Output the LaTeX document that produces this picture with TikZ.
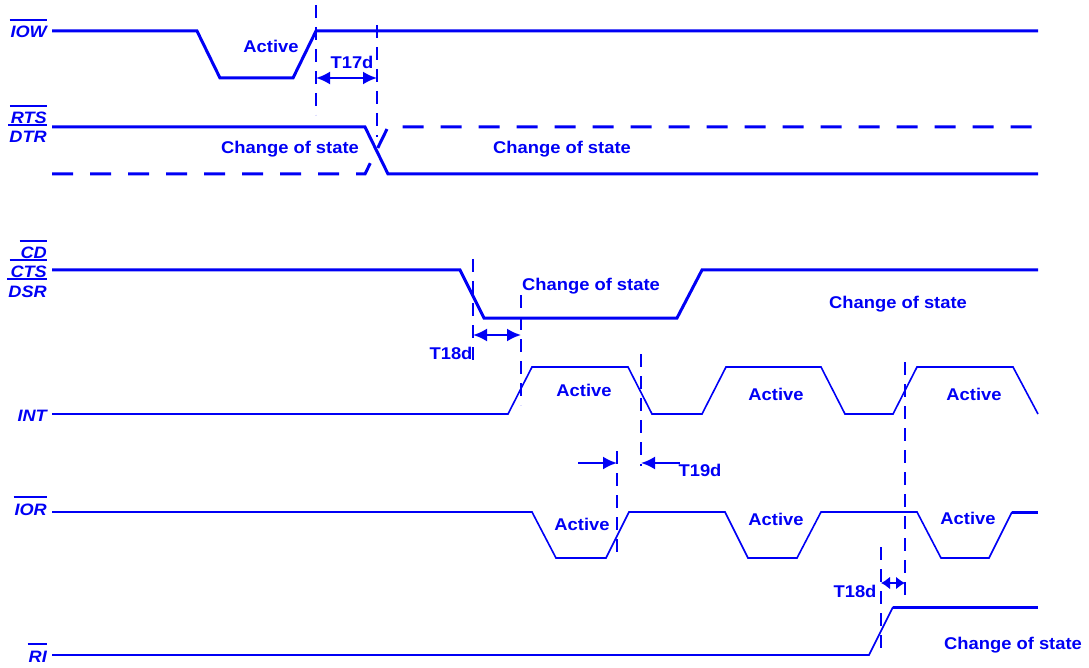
\documentclass[tikz,border=0pt]{standalone}
\usepackage{fontspec}
\setmainfont{Liberation Sans}[FakeStretch=1.08]
\newfontfamily\sigfont{Liberation Sans}[FakeStretch=1.1]
\usepackage{xcolor}
\usetikzlibrary{arrows.meta}
\definecolor{sigblue}{RGB}{0,0,245}
\newlength{\ovlw}
\newcommand{\ovl}[1]{\settowidth{\ovlw}{#1}\rlap{\hspace{-1pt}\smash{\rule[1.02em]{\dimexpr\ovlw+1pt\relax}{2.4pt}}}#1}

\begin{document}
\begin{tikzpicture}[
    x=1pt, y=-1pt,
    color=sigblue,
    font=\fontsize{17}{20}\selectfont\bfseries,
    >={Latex[length=14pt,width=13pt]},
    wave/.style={line width=3pt},
    thinwave/.style={line width=1.6pt},
    dashwave/.style={line width=3pt, dash pattern=on 21pt off 17pt},
    marker/.style={line width=2pt, dash pattern=on 13pt off 9pt},
    signame/.style={
      anchor=base east,
      align=right,
      inner sep=0pt,
      font=\sigfont\fontsize{16.5}{19}\selectfont\bfseries\itshape
    },
    note/.style={inner sep=0pt},
    arrow/.style={<->, line width=2.2pt},
    smallarrow/.style={<->, line width=2pt, >={Latex[length=9pt,width=13pt]}}
]
\useasboundingbox (0,0) rectangle (1089,668);

% signal names
\node[signame] (iow) at (47,38) {\ovl{IOW}};
\node[signame] (rts) at (47,143) {\ovl{RTS}\\\ovl{DTR}};
\node[signame] (cd) at (47,297) {\ovl{CD}\\\ovl{CTS}\\\ovl{DSR}};
\node[signame] (int) at (47,421) {INT};
\node[signame] (ior) at (47,515) {\ovl{IOR}};
\node[signame] (ri) at (47,662) {\ovl{RI}};

% waveforms
\draw[wave] (52,31) -- (197,31) -- (220,78) -- (293,78) -- (316,31) -- (1038,31);
\draw[wave] (52,127) -- (365,127) -- (388,174) -- (1038,174);
\draw[dashwave] (52,174) -- (365,174) -- (388,127) -- (1038,127);
\draw[wave] (52,270) -- (460,270) -- (484,318) -- (677,318) -- (702,270) -- (1038,270);
\draw[thinwave] (52,414) -- (508,414) -- (532,367) -- (628,367) -- (652,414)
  -- (702,414) -- (726,367) -- (821,367) -- (845,414) -- (893,414) -- (917,367)
  -- (1013,367) -- (1038,414);
\draw[thinwave] (52,512) -- (532,512) -- (556,558) -- (606,558) -- (629,512)
  -- (725,512) -- (748,558) -- (797,558) -- (821,512) -- (917,512) -- (941,558)
  -- (989,558) -- (1012,512);
\draw[wave] (1012,512) -- (1038,512);
\draw[thinwave] (52,655) -- (869,655) -- (893,607);
\draw[wave] (893,607) -- (1038,607);

% timing markers
\foreach \x/\ya/\yb in {316/5/115, 377/25/137, 473/259/367, 521/295/405,
                        641/354/466, 617/451/560, 905/362/595, 881/547/655}
  \draw[marker] (\x,\ya) -- (\x,\yb);

% delay arrows
\coordinate (a17) at (316,78);
\coordinate (b17) at (377,78);
\coordinate (a18) at (473,335);
\coordinate (b18) at (521,335);
\coordinate (a19) at (578,463);
\coordinate (b19) at (617,463);
\coordinate (c19) at (680,463);
\coordinate (d19) at (641,463);
\coordinate (e18) at (881,583);
\coordinate (f18) at (905,583);
\draw[arrow] (a17) -- (b17);
\draw[arrow] (a18) -- (b18);
\draw[->, line width=2.2pt] (a19) -- (b19);
\draw[->, line width=2.2pt] (c19) -- (d19);
\draw[smallarrow] (e18) -- (f18);

% labels
\node[note] (actw) at (271,46) {Active};
\node[note] (t17) at (352,62) {T17d};
\node[note] (cs1) at (290,149) {Change of state};
\node[note] (cs2) at (562,149) {Change of state};
\node[note] (cs3) at (591,286) {Change of state};
\node[note] (cs4) at (898,304) {Change of state};
\node[note] (t18a) at (451,353) {T18d};
\node[note] (act1) at (584,390) {Active};
\node[note] (act2) at (776,394) {Active};
\node[note] (act3) at (974,394) {Active};
\node[note] (t19) at (700,470) {T19d};
\node[note] (act4) at (582,524) {Active};
\node[note] (act5) at (776,519) {Active};
\node[note] (act6) at (968,518) {Active};
\node[note] (t18b) at (855,591) {T18d};
\node[note] (cs5) at (1013,645) {Change of state};
\end{tikzpicture}
\end{document}
